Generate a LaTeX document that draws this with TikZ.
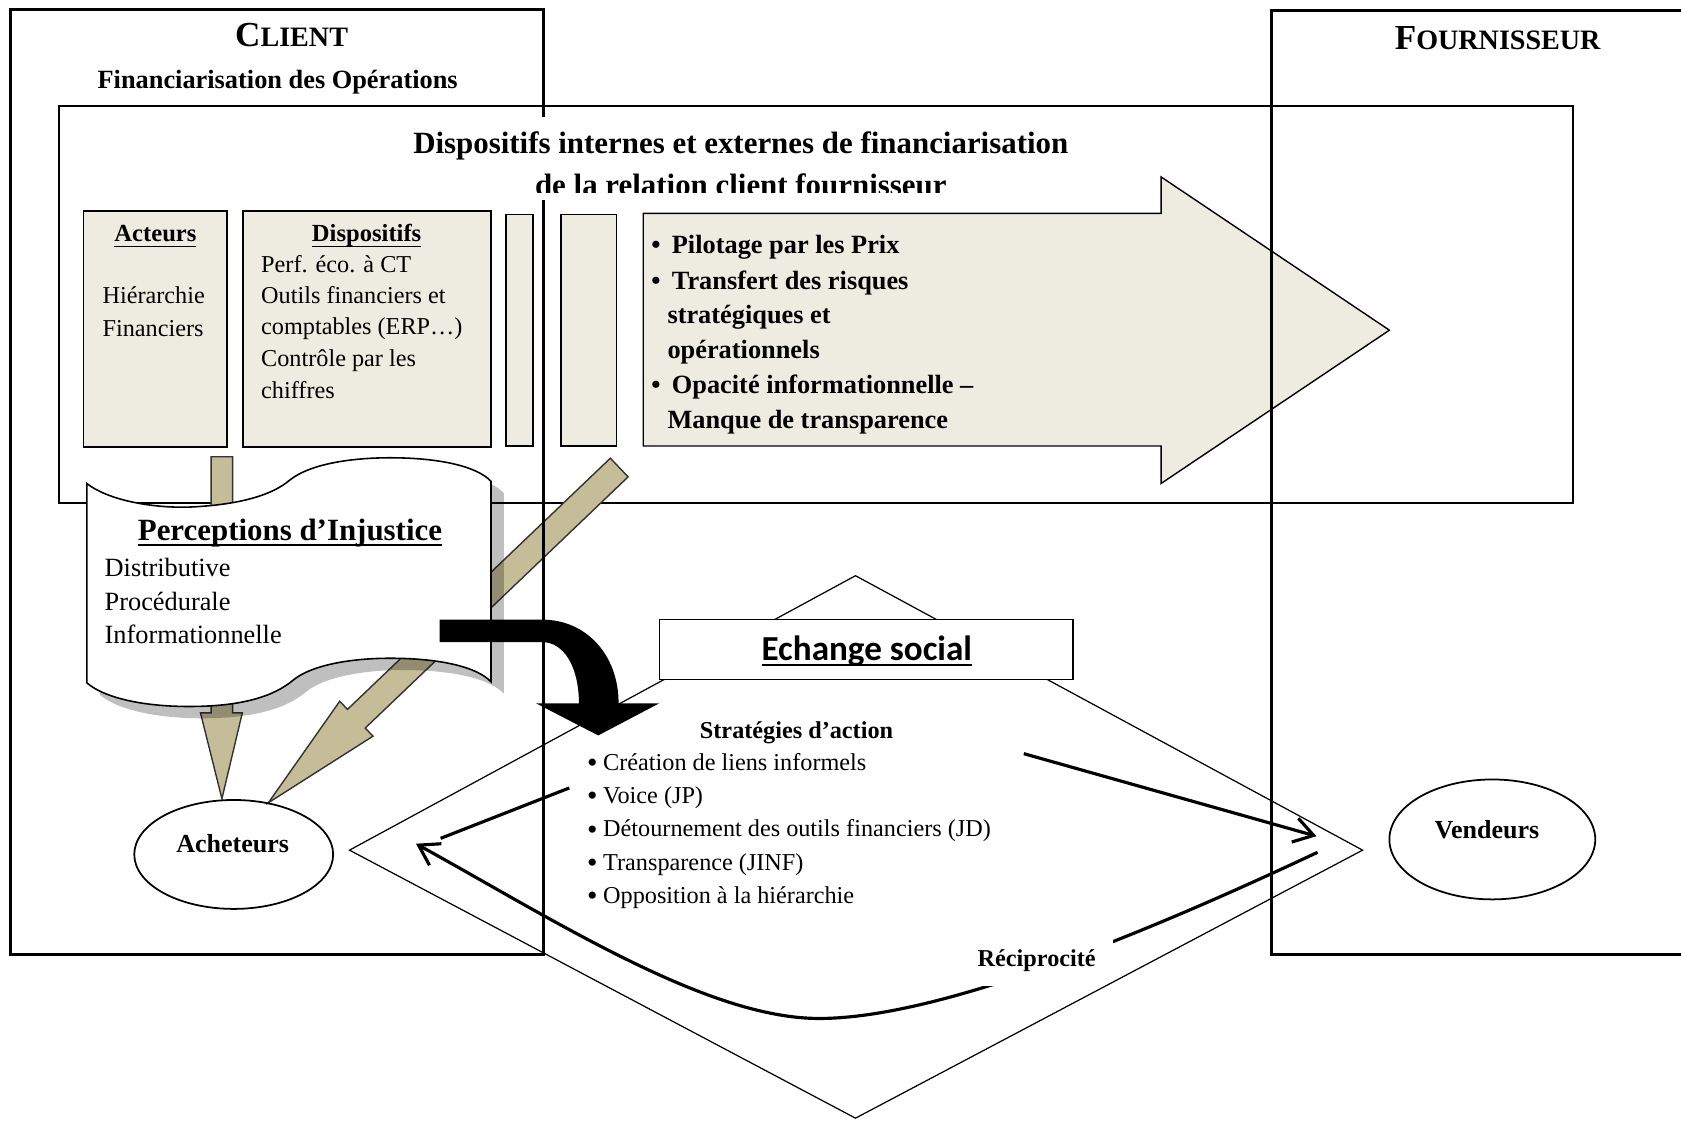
\documentclass[tikz,border=0pt]{standalone}
\usepackage{fontspec}
\setmainfont{Liberation Serif}
\newfontfamily\calibri{Carlito}
\usepackage{tikz}
\usetikzlibrary{arrows.meta,positioning,shapes.geometric}
\definecolor{paper}{HTML}{EEECE1}
\definecolor{khaki}{HTML}{C4BD97}
\newcommand{\fsz}[2]{\fontsize{#1}{#2}\selectfont}
\newcommand{\souligne}[1]{\underline{\smash{#1}}}
\tikzstyle{side} = [draw=black, line width=0.85pt]
\tikzstyle{frame} = [draw=black, line width=0.45pt]
\tikzstyle{fine} = [draw=black, line width=0.35pt]
\tikzstyle{card} = [draw=black, fill=paper, line width=0.5pt]
\tikzstyle{block} = [draw=black!80, fill=khaki, line width=0.4pt]
\tikzstyle{role} = [ellipse, draw=black, line width=0.5pt, inner sep=0pt]
\tikzstyle{txt} = [inner sep=0pt]
\tikzstyle{arrow} = [-{Straight Barb[length=5.5pt,width=7pt]}, line width=0.9pt]
% wavy document shape
\newcommand{\vague}{(81,451) .. controls (100,466) and (140,474) .. (176,473) .. controls (225,471) and (255,461) .. (270,448) .. controls (290,432) and (330,427) .. (364,427) .. controls (410,427) and (445,435) .. (458,449) -- (458,636) .. controls (445,622) and (410,614) .. (364,614) .. controls (325,614) and (290,621) .. (274,634) .. controls (255,650) and (225,659) .. (176,659) .. controls (140,659) and (100,653) .. (81,637) -- cycle}

\begin{document}
\begin{tikzpicture}[x=0.01072cm, y=-0.01072cm]
\useasboundingbox (0,0) rectangle (1568,1045);

% client title
\node[txt, font=\bfseries, anchor=base] (client) at (272,43.5) {\fsz{10}{12}C\fsz{8}{10}LIENT};
\node[txt, font=\bfseries\fsz{7.5}{9}, anchor=base] (financ) at (259,82.4) {Financiarisation des Opérations};

% dispositifs frame
\draw[frame] (55,99) rectangle (1467,469);
\fill[white] (380,109) rectangle (1000,187);
\begin{scope}
\clip (380,105) rectangle (1000,180);
\node[txt, font=\bfseries\fsz{8.8}{11}, anchor=base] (titre1) at (691,143) {Dispositifs internes et externes de financiarisation};
\node[txt, font=\bfseries\fsz{8.8}{11}, anchor=base] (titre2) at (691,182) {de la relation client fournisseur};
\end{scope}

% acteurs and dispositifs
\draw[card] (78,197) rectangle (212,417);
\node[txt, font=\bfseries\fsz{7}{9}, anchor=base] (acteurs) at (145,225.4) {\souligne{Acteurs}};
\node[txt, font=\fsz{6.9}{9}, anchor=base west] (hier) at (95,283) {Hiérarchie};
\node[txt, font=\fsz{6.9}{9}, anchor=base west] (financiers) at (95,314) {Financiers};
\draw[card] (227,197) rectangle (458,417);
\node[txt, font=\bfseries\fsz{7}{9}, anchor=base] (dispo) at (342,225.4) {\souligne{Dispositifs}};
\foreach \ligne/\yy [count=\i] in {Perf. éco. à CT/254.4, Outils financiers et/283, comptables (ERP…)/311.6, Contrôle par les/341.4, chiffres/371.6}
  \node[txt, font=\fsz{6.9}{9}, anchor=base west] (disp\i) at (243,\yy) {\ligne};
\draw[card] (472,200) rectangle (497,416);
\draw[card] (523,200) rectangle (575,416);

% big arrow towards the supplier
\draw[card, line width=0.4pt] (600,199) -- (1083,199) -- (1083,165) -- (1296,308) -- (1083,451) -- (1083,416) -- (600,416) -- cycle;
\node[txt, font=\bfseries\fsz{7.5}{10}, anchor=base west] (pilot) at (607,236) {•\hspace{3.2pt}Pilotage par les Prix};
\node[txt, font=\bfseries\fsz{7.5}{10}, anchor=base west] (transf) at (607,270.5) {•\hspace{3.2pt}Transfert des risques};
\node[txt, font=\bfseries\fsz{7.5}{10}, anchor=base west] (strat) at (622,302) {stratégiques et};
\node[txt, font=\bfseries\fsz{7.5}{10}, anchor=base west] (operat) at (622,334) {opérationnels};
\node[txt, font=\bfseries\fsz{7.5}{10}, anchor=base west] (opac) at (607,367) {•\hspace{3.2pt}Opacité informationnelle –};
\node[txt, font=\bfseries\fsz{7.5}{10}, anchor=base west] (manque) at (622,400) {Manque de transparence};

% supplier side
\draw[side] (1570,10) -- (1186,10) -- (1186,890) -- (1570,890);
\node[txt, font=\bfseries, anchor=base] (fourn) at (1397,46.5) {\fsz{10}{12}F\fsz{8}{10}OURNISSEUR};

% tan block arrows
\draw[block] (197,426) -- (217,426) -- (217,665) -- (226,665) -- (207,745) -- (187,665) -- (197,665) -- cycle;
\draw[block] (569.3,427.4) -- (585.9,444.8) -- (340.7,679.1) -- (347.9,686.7) -- (250.3,748.8) -- (316.9,654.1) -- (324.1,661.7) -- cycle;

% perceptions d'injustice
\fill[black, opacity=0.25, shift={(12,11)}] \vague;
\draw[frame, fill=white] \vague;
\node[txt, font=\bfseries\fsz{8.8}{11}, anchor=base] (percep) at (270.5,503.7) {\souligne{Perceptions d’Injustice}};
\node[txt, font=\fsz{7.5}{9}, anchor=base west] (distr) at (97,537.9) {Distributive};
\node[txt, font=\fsz{7.5}{9}, anchor=base west] (proc) at (97,569.7) {Procédurale};
\node[txt, font=\fsz{7.5}{9}, anchor=base west] (inform) at (97,600.7) {Informationnelle};

% buyers and sellers
\node[role, minimum width=1.99cm, minimum height=1.09cm] (acheteurs) at (218,797) {};
\node[txt, font=\bfseries\fsz{7.4}{9}, anchor=base] (achlbl) at (217,795.4) {Acheteurs};
\node[role, minimum width=2.06cm, minimum height=1.2cm] (vendeurs) at (1392,783) {};
\node[txt, font=\bfseries\fsz{7.4}{9}, anchor=base] (vendlbl) at (1387,782) {Vendeurs};

% reciprocity loop
\coordinate (crea) at (955,703);
\coordinate (vers) at (1228,780);
\coordinate (voix) at (531,735);
\coordinate (retour) at (411,782);
\coordinate (depart) at (1229,795);
\coordinate (creux) at (764,950);
\coordinate (arrivee) at (388,787);
\draw[arrow] (crea) -- (vers);
\draw[line width=0.9pt] (voix) -- (retour);
\draw[arrow] (depart) .. controls (1080,865) and (880,950) .. (creux) .. controls (660,950) and (520,860) .. (arrivee);
\node[fill=white, inner xsep=5pt, inner ysep=4pt, font=\bfseries\fsz{6.9}{9}, anchor=base] (recip) at (967,901.7) {Réciprocité};

% echange social
\draw[fine] (798,537) -- (1271,793) -- (798,1043) -- (326,793) -- cycle;
\draw[frame, fill=white] (615,578) rectangle (1001,634);
\node[txt, font=\calibri\bfseries\fsz{10}{12}, anchor=base] (echange) at (808.5,615.7) {\souligne{Echange social}};
\node[txt, font=\bfseries\fsz{6.9}{9}, anchor=base] (actions) at (743,688.7) {Stratégies d’action};
\foreach \ligne/\yy [count=\i] in {Création de liens informels/718.3, Voice (JP)/749.4, Détournement des outils financiers (JD)/780.5, Transparence (JINF)/811.6, Opposition à la hiérarchie/842.6}
  \node[txt, font=\fsz{6.9}{9}, anchor=base west] (act\i) at (547,\yy) {\raisebox{-0.7pt}{\fsz{8.5}{9}•}\hspace{1.6pt}\ligne};

% black bent arrow
\fill[black] (410,578) -- (506,578) .. controls (546,578) and (577,610) .. (577,656) -- (615,656) -- (558,686) -- (500,656) -- (540,656) .. controls (540,622) and (526,599) .. (506,599) -- (410,599) -- cycle;

% client frame
\draw[side] (507,187) -- (507,890) -- (10,890) -- (10,9) -- (507,9) -- (507,109);
\end{tikzpicture}
\end{document}
